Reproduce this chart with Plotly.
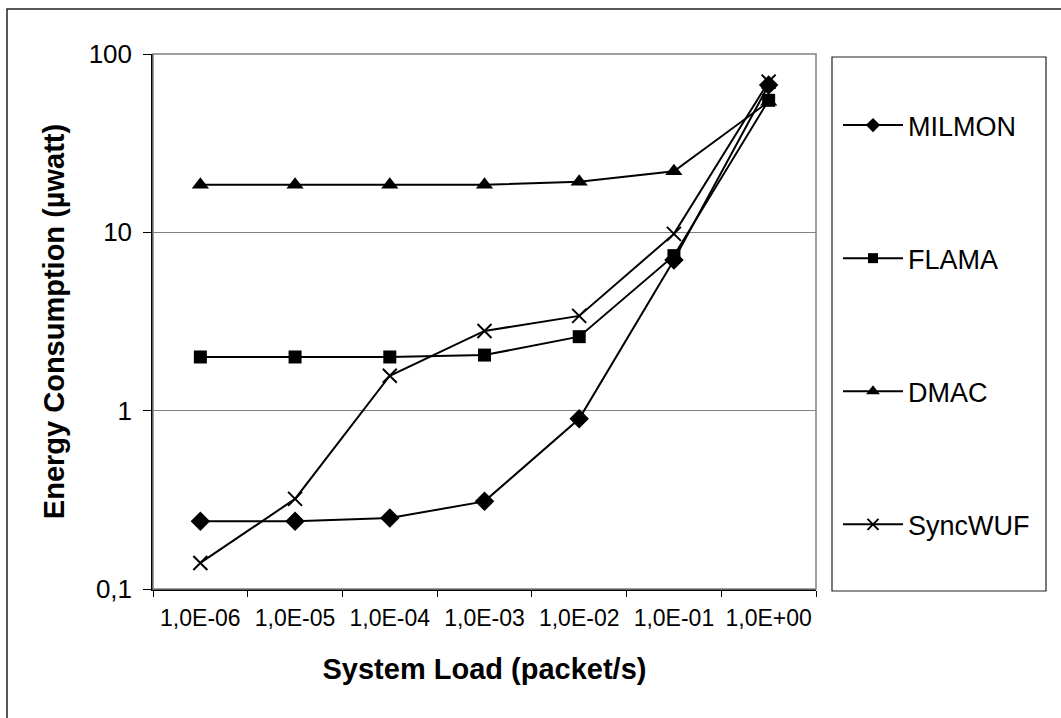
import plotly.graph_objects as go

# system load categories (packet/s) and energy per protocol (uwatt)
LOADS = ['1,0E-06', '1,0E-05', '1,0E-04', '1,0E-03', '1,0E-02', '1,0E-01', '1,0E+00']
MILMON = [0.24, 0.24, 0.25, 0.31, 0.9, 7.0, 67]
FLAMA = [2.0, 2.0, 2.0, 2.05, 2.6, 7.4, 55]
DMAC = [18.5, 18.5, 18.5, 18.5, 19.2, 22, 54]
SYNCWUF = [0.14, 0.32, 1.57, 2.8, 3.4, 9.8, 70]

Y_TICKS = [0.1, 1, 10, 100]
Y_TICKTEXT = ['0,1', '1', '10', '100']

FONT = 'Arial, Liberation Sans, sans-serif'
INK = '#000000'
GRID = '#808080'

SERIES = [
    ('MILMON', MILMON, dict(symbol='diamond', size=15), dict(symbol='diamond', size=11)),
    ('FLAMA', FLAMA, dict(symbol='square', size=13), dict(symbol='square', size=10)),
    ('DMAC', DMAC, dict(symbol='triangle-up', size=15), dict(symbol='triangle-up', size=12)),
    ('SyncWUF', SYNCWUF, dict(symbol='x-thin', size=14, line=dict(width=2, color=INK)),
     dict(symbol='x-thin', size=11, line=dict(width=2, color=INK))),
]

fig = go.Figure()
for name, vals, mk, lmk in SERIES:
    fig.add_trace(go.Scatter(x=LOADS, y=vals, name=name, mode='lines+markers',
        line=dict(color=INK, width=2), marker=dict(color=INK, **mk),
        showlegend=False))
for i, (name, vals, mk, lmk) in enumerate(SERIES):
    # legend-only entries with the smaller Excel-style legend markers
    fig.add_trace(go.Scatter(x=[LOADS[0]], y=[None], name=name, mode='lines+markers',
        line=dict(color=INK, width=2), marker=dict(color=INK, **lmk),
        legendgroup=f'g{i}', showlegend=True))

W, H = 1061, 718
L, R, T, B = 153, 245, 54, 129
pw, ph = W - L - R, H - T - B


def px(x):
    return (x - L) / pw


def py(y):
    return (H - B - y) / ph


fig.update_layout(
    width=W, height=H,
    paper_bgcolor='white', plot_bgcolor='white',
    font=dict(family=FONT, size=25, color=INK),
    margin=dict(l=L, r=R, t=T, b=B),
    legend=dict(x=px(838), xanchor='left', y=py(101), yanchor='top',
                bgcolor='rgba(0,0,0,0)', borderwidth=0, tracegroupgap=95,
                itemwidth=60, font=dict(size=27, family=FONT)),
    shapes=[
        # outer chart frame (right and bottom run off the canvas)
        dict(type='rect', xref='paper', yref='paper', x0=px(7), x1=px(1080),
             y0=py(740), y1=py(9), line=dict(color='#202020', width=1.5)),
        # plot area frame
        dict(type='rect', xref='paper', yref='paper', x0=0, x1=1, y0=0, y1=1,
             line=dict(color=GRID, width=1.5)),
        # legend frame
        dict(type='rect', xref='paper', yref='paper', x0=px(832), x1=px(1046),
             y0=py(591), y1=py(57), line=dict(color='#202020', width=1.2)),
    ],
)
fig.update_xaxes(type='category', tickson='boundaries', ticks='outside', ticklen=6,
    tickcolor=INK, showline=True, linecolor=INK, linewidth=1.5, showgrid=False,
    tickangle=0, ticklabelstandoff=8, tickfont=dict(size=23),
    title=dict(text='<b>System Load (packet/s)</b>', font=dict(size=29), standoff=28),
    range=[-0.5, 6.5])
fig.update_yaxes(type='log', range=[-1, 2], tickvals=Y_TICKS, ticktext=Y_TICKTEXT,
    ticks='outside', ticklen=8, tickcolor=INK, showline=True, linecolor=INK,
    linewidth=1.5, showgrid=True, gridcolor=GRID, gridwidth=1.2, zeroline=False,
    ticklabelstandoff=6, tickfont=dict(size=26),
    title=dict(text='<b>Energy Consumption (\u00b5watt)</b>', font=dict(size=29), standoff=16))

# drop the default page margin so the figure sits at the window origin
fig.write_html('out.html', config=dict(displayModeBar=False),
               post_script="document.body.style.margin='0';")
